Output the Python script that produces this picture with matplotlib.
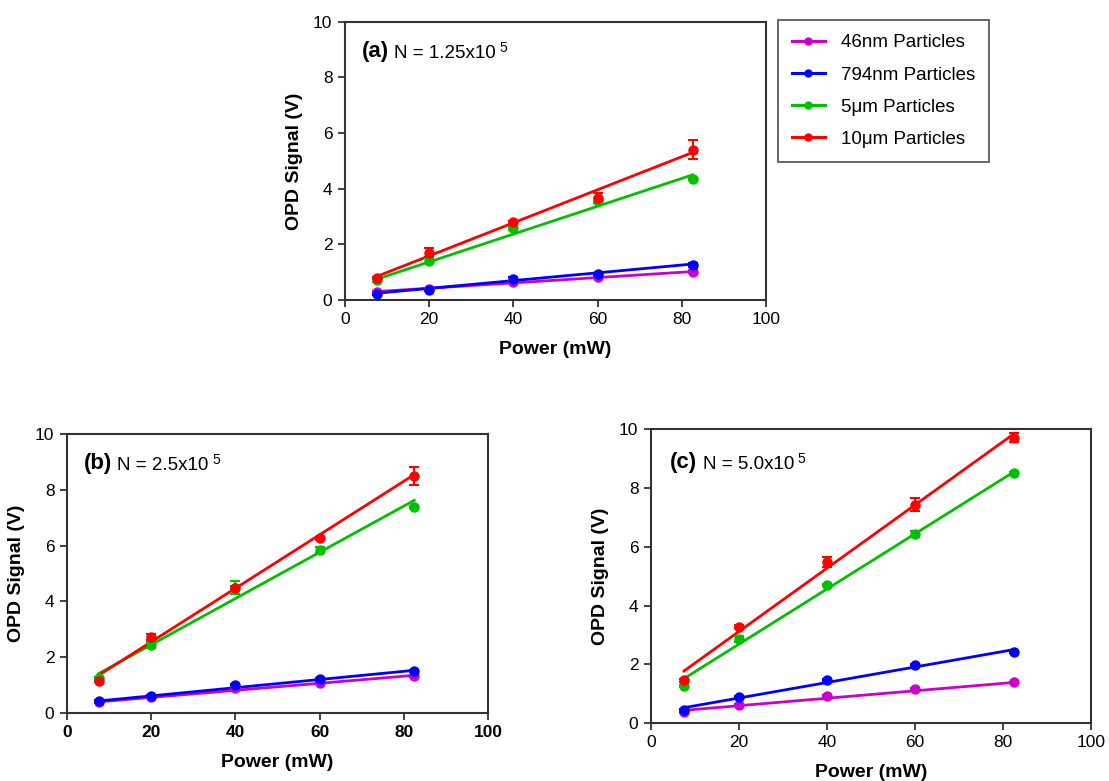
import matplotlib
matplotlib.use("Agg")

import numpy as np
import matplotlib.pyplot as plt
from matplotlib.lines import Line2D

plt.rcParams["font.family"] = ["Liberation Sans", "DejaVu Sans"]

# x positions (laser power, mW)
POWER = [7.5, 20, 40, 60, 82.5]

LABELS = ["46nm Particles", "794nm Particles", "5\u03bcm Particles", "10\u03bcm Particles"]
COLORS = ["#cc00cc", "#0000ff", "#00c000", "#ff0000"]

# panel (a)  N = 1.25x10^5
A_46NM = [0.28, 0.40, 0.65, 0.82, 1.02]
A_794NM = [0.22, 0.36, 0.74, 0.93, 1.26]
A_5UM = [0.70, 1.41, 2.58, 3.57, 4.34]
A_10UM = [0.78, 1.70, 2.79, 3.68, 5.40]
A_ERR_46NM = [0.03, 0.03, 0.03, 0.03, 0.04]
A_ERR_794NM = [0.03, 0.03, 0.08, 0.03, 0.08]
A_ERR_5UM = [0.04, 0.10, 0.05, 0.10, 0.04]
A_ERR_10UM = [0.04, 0.15, 0.05, 0.15, 0.35]
A_SLOPE = [0.0096, 0.0140, 0.0501, 0.0595]
A_ICPT = [0.228, 0.135, 0.364, 0.394]

# panel (b)  N = 2.5x10^5
B_46NM = [0.38, 0.56, 0.88, 1.09, 1.32]
B_794NM = [0.42, 0.62, 0.99, 1.22, 1.50]
B_5UM = [1.25, 2.43, 4.50, 5.84, 7.40]
B_10UM = [1.14, 2.73, 4.50, 6.27, 8.50]
B_ERR_46NM = [0.03, 0.03, 0.03, 0.03, 0.04]
B_ERR_794NM = [0.03, 0.03, 0.04, 0.03, 0.04]
B_ERR_5UM = [0.04, 0.10, 0.24, 0.10, 0.04]
B_ERR_10UM = [0.04, 0.12, 0.05, 0.05, 0.34]
B_SLOPE = [0.01267, 0.01467, 0.0829, 0.0960]
B_ICPT = [0.305, 0.320, 0.788, 0.630]

# panel (c)  N = 5.0x10^5
C_46NM = [0.37, 0.60, 0.92, 1.15, 1.38]
C_794NM = [0.45, 0.89, 1.47, 1.99, 2.42]
C_5UM = [1.26, 2.85, 4.69, 6.45, 8.51]
C_10UM = [1.45, 3.27, 5.48, 7.43, 9.72]
C_ERR_46NM = [0.03, 0.03, 0.03, 0.03, 0.03]
C_ERR_794NM = [0.03, 0.03, 0.03, 0.03, 0.04]
C_ERR_5UM = [0.04, 0.10, 0.04, 0.10, 0.04]
C_ERR_10UM = [0.05, 0.05, 0.17, 0.22, 0.14]
C_SLOPE = [0.01267, 0.0264, 0.0939, 0.1077]
C_ICPT = [0.335, 0.322, 0.806, 0.962]

EDGE = "#333333"


def draw_panel(ax, series, errors, slopes, icpts, tag, ntext, bold_xticks=False):
    x = np.array(POWER)
    for vals, err, m, b, col in zip(series, errors, slopes, icpts, COLORS):
        ax.plot(x[[0, -1]], m * x[[0, -1]] + b, color=col, lw=2.0, zorder=2)
        ax.errorbar(x, vals, yerr=err, fmt="o", color=col, ms=6.5, capsize=3.5,
                    elinewidth=1.5, capthick=1.5, zorder=3)

    ax.set_xlim(0, 100)
    ax.set_ylim(0, 10)
    ax.set_xticks(range(0, 101, 20))
    ax.set_yticks(range(0, 11, 2))
    ax.tick_params(direction="out", length=5, width=1.3, color=EDGE, labelsize=12.5, pad=4)
    for s in ax.spines.values():
        s.set_linewidth(1.5)
        s.set_color(EDGE)
    if bold_xticks:
        for lbl in ax.get_xticklabels():
            lbl.set_fontweight("bold")

    ax.set_xlabel("Power (mW)", fontsize=14, fontweight="bold", labelpad=10)
    ax.set_ylabel("OPD Signal (V)", fontsize=14, fontweight="bold", labelpad=7)

    t = ax.text(tag[0], tag[1], tag[2], transform=ax.transAxes, fontsize=16,
                fontweight="bold", va="center", ha="left")
    n = ax.annotate(ntext, xy=(1, 0), xycoords=t, xytext=(4, 0),
                    textcoords="offset points", fontsize=13.5, va="bottom", ha="left")
    ax.annotate("5", xy=(1, 1), xycoords=n, xytext=(2.5, 3),
                textcoords="offset points", fontsize=10, va="top", ha="left")


fig = plt.figure(figsize=(11.09, 7.81), dpi=100)

ax_a = fig.add_axes([0.311, 0.616, 0.380, 0.356])
draw_panel(ax_a, [A_46NM, A_794NM, A_5UM, A_10UM],
           [A_ERR_46NM, A_ERR_794NM, A_ERR_5UM, A_ERR_10UM],
           A_SLOPE, A_ICPT, (0.04, 0.893, "(a)"), "N = 1.25x10")

ax_b = fig.add_axes([0.0604, 0.0871, 0.3796, 0.357])
draw_panel(ax_b, [B_46NM, B_794NM, B_5UM, B_10UM],
           [B_ERR_46NM, B_ERR_794NM, B_ERR_5UM, B_ERR_10UM],
           B_SLOPE, B_ICPT, (0.039, 0.895, "(b)"), "N = 2.5x10", bold_xticks=True)

ax_c = fig.add_axes([0.587, 0.0743, 0.3967, 0.376])
draw_panel(ax_c, [C_46NM, C_794NM, C_5UM, C_10UM],
           [C_ERR_46NM, C_ERR_794NM, C_ERR_5UM, C_ERR_10UM],
           C_SLOPE, C_ICPT, (0.043, 0.888, "(c)"), "N = 5.0x10")

handles = [Line2D([], [], color=c, lw=2.2, marker="o", ms=5) for c in COLORS]
leg = fig.legend(handles, LABELS, loc="upper left", bbox_to_anchor=(0.7015, 0.974),
                 fontsize=13.5, frameon=True, fancybox=False, edgecolor=EDGE,
                 handlelength=1.75, handletextpad=0.85, labelspacing=0.8,
                 borderpad=0.75, borderaxespad=0)
leg.get_frame().set_linewidth(1.3)

fig.savefig("out.png", dpi=100)
